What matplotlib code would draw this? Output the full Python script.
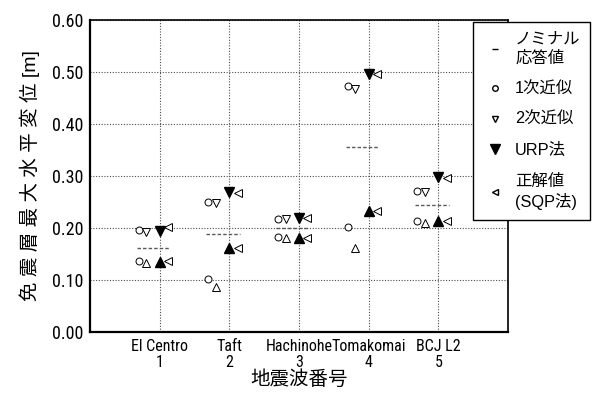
import matplotlib.pyplot as plt
from matplotlib import font_manager
from matplotlib.lines import Line2D
import numpy as np

# a narrow sans for the latin text if one is installed
installed = {f.name for f in font_manager.fontManager.ttflist}
narrow = [n for n in ["Liberation Sans Narrow", "Arial Narrow", "Roboto Condensed",
                      "Archivo Narrow", "PT Sans Narrow"] if n in installed][:1]
plt.rcParams['font.family'] = narrow + ['Liberation Sans', 'Noto Sans CJK JP', 'DejaVu Sans']
cjk_family = ['Liberation Sans', 'Noto Sans CJK JP', 'DejaVu Sans']

# === Data ===
cases = [1, 2, 3, 4, 5]
wave_names = ["El Centro", "Taft", "Hachinohe", "Tomakomai", "BCJ L2"]

nominal = [0.162, 0.188, 0.200, 0.356, 0.244]

# upper branch (down triangles)
first_up = [0.196, 0.250, 0.218, 0.473, 0.271]
second_up = [0.192, 0.248, 0.217, 0.467, 0.270]
urp_up = [0.194, 0.270, 0.219, 0.496, 0.298]
sqp_up = [0.202, 0.268, 0.219, 0.496, 0.296]

# lower branch (up triangles)
first_lo = [0.137, 0.102, 0.182, 0.202, 0.213]
second_lo = [0.133, 0.087, 0.180, 0.161, 0.209]
urp_lo = [0.135, 0.161, 0.181, 0.233, 0.213]
sqp_lo = [0.137, 0.162, 0.181, 0.233, 0.213]

x = np.array(cases, dtype=float)

fig = plt.figure(figsize=(5.95, 3.94), dpi=100)
ax = fig.add_axes([90 / 595, 62 / 394, 418 / 595, 312 / 394])

# nominal response as short dashed bars
for xi, v in zip(x, nominal):
    ax.plot([xi - 0.33, xi + 0.15], [v, v], ls=(0, (2.5, 1.5)), color="0.35", lw=1.0)

ax.plot(x - 0.3, first_up, "o", mfc="white", mec="black", ms=5, mew=0.7, ls="none")
ax.plot(x - 0.19, second_up, "v", mfc="white", mec="black", ms=6, mew=0.7, ls="none")
ax.plot(x, urp_up, "v", mfc="black", mec="black", ms=7.5, ls="none")
ax.plot(x + 0.12, sqp_up, "<", mfc="white", mec="black", ms=6, mew=0.7, ls="none")

ax.plot(x - 0.3, first_lo, "o", mfc="white", mec="black", ms=5, mew=0.7, ls="none")
ax.plot(x - 0.19, second_lo, "^", mfc="white", mec="black", ms=6, mew=0.7, ls="none")
ax.plot(x, urp_lo, "^", mfc="black", mec="black", ms=7.5, ls="none")
ax.plot(x + 0.12, sqp_lo, "<", mfc="white", mec="black", ms=6, mew=0.7, ls="none")

ax.set_xlim(0, 6)
ax.set_ylim(0, 0.6)
ax.set_xticks(cases)
ax.set_xticklabels([f"{n}\n{c}" for n, c in zip(wave_names, cases)],
                   fontsize=11.5 if narrow else 10, linespacing=1.1)
ax.set_yticks(np.arange(0, 0.61, 0.1))
ax.set_yticklabels([f"{v:.2f}" for v in np.arange(0, 0.61, 0.1)], fontsize=13)
ax.tick_params(length=0, pad=5)
ax.grid(True, ls=(0, (1, 1.5)), color="0.3", lw=0.8)
ax.set_axisbelow(True)
for s in ax.spines.values():
    s.set_linewidth(1.2)
ax.spines["left"].set_linewidth(1.6)
ax.spines["bottom"].set_linewidth(1.6)

ax.set_xlabel("地震波番号", fontsize=14, labelpad=0, family=cjk_family)
ax.set_ylabel(" ".join("免震層最大水平変位") + " [m]", fontsize=14, labelpad=8, family=cjk_family)

handles = [
    Line2D([], [], marker="_", color="black", ls="none", ms=5),
    Line2D([], [], marker="o", mfc="white", mec="black", ls="none", ms=4),
    Line2D([], [], marker="v", mfc="white", mec="black", ls="none", ms=5),
    Line2D([], [], marker="v", mfc="black", mec="black", ls="none", ms=7),
    Line2D([], [], marker="<", mfc="white", mec="black", ls="none", ms=5),
]
labels = ["ノミナル\n応答値", "1次近似", "2次近似", "URP法", "正解値\n(SQP法)"]
leg = fig.legend(handles, labels, loc="upper left", bbox_to_anchor=(473 / 595, 1 - 22 / 394),
                 bbox_transform=fig.transFigure, borderaxespad=0,
                 prop={"family": cjk_family, "size": 11.8},
                 fancybox=False, edgecolor="black", framealpha=1, handlelength=1.49,
                 handletextpad=0.48, labelspacing=0.95, borderpad=0.6)
leg.get_frame().set_linewidth(1.0)
for t in leg.get_texts():
    t.set_multialignment("left")
    t.set_linespacing(1.3)

fig.savefig("out.png", dpi=100)
